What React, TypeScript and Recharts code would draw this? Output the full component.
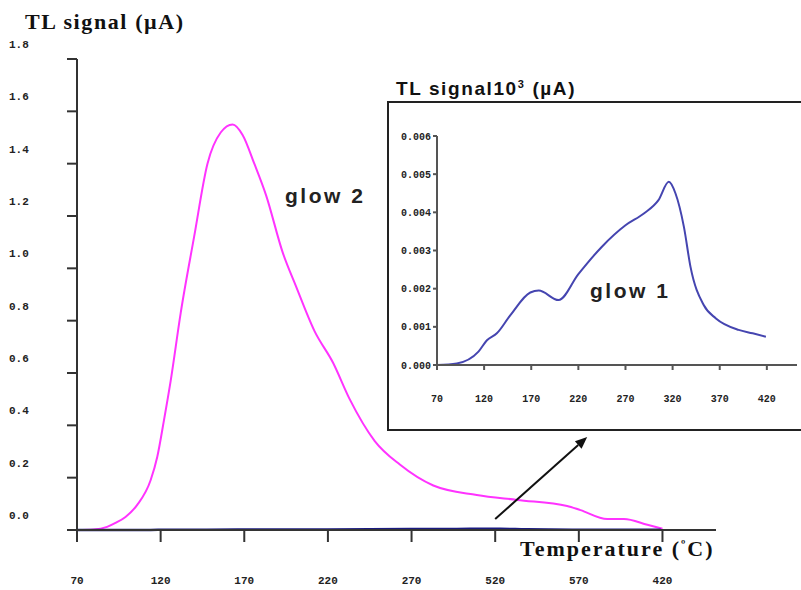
import React from 'react';
import { LineChart, Line, XAxis, YAxis, ReferenceLine } from 'recharts';

// ---- data ----
const xTickValues = [70, 120, 170, 220, 270, 320, 370, 420];
const mainXTickLabels = ['70', '120', '170', '220', '270', '520', '570', '420'];
const insetXTickLabels = ['70', '120', '170', '220', '270', '320', '370', '420'];

const mainYTicks = [0, 0.2, 0.4, 0.6, 0.8, 1.0, 1.2, 1.4, 1.6, 1.8];
const mainYTickLabels = ['0.0', '0.2', '0.4', '0.6', '0.8', '1.0', '1.2', '1.4', '1.6', '1.8'];

const insetYTicks = [0, 0.001, 0.002, 0.003, 0.004, 0.005, 0.006];
const insetYTickLabels = ['0.000', '0.001', '0.002', '0.003', '0.004', '0.005', '0.006'];

const glow2Temps = [70, 80, 88, 93, 99, 106, 114, 118, 122, 126, 132, 140, 148, 156, 163, 169, 176, 183, 193, 201, 212, 223, 233, 248, 263, 283, 309, 333, 363, 371, 387, 397, 411, 420];
const glow2Values = [0, 0.002, 0.012, 0.027, 0.05, 0.096, 0.19, 0.28, 0.42, 0.57, 0.83, 1.12, 1.4, 1.52, 1.55, 1.51, 1.4, 1.28, 1.06, 0.93, 0.76, 0.64, 0.5, 0.34, 0.25, 0.17, 0.134, 0.115, 0.092, 0.076, 0.042, 0.042, 0.02, 0.005];

const glow1Temps = [70, 91, 114, 123, 133.5, 147.7, 169, 178, 199, 220, 245, 270, 289.5, 305, 316, 323, 332, 339, 353, 366, 390, 405, 419];
const glow1Values = [0, 0.00004, 0.00035, 0.00065, 0.00083, 0.0013, 0.0019, 0.00195, 0.0017, 0.00238, 0.0031, 0.00366, 0.00397, 0.00432, 0.0048, 0.0045, 0.00362, 0.00257, 0.00157, 0.00122, 0.00092, 0.00083, 0.00074];

const arrowStart = { t: 320, v: 0.042 };
const arrowEnd = { t: 375, v: 0.355 };

const glow2Data = glow2Temps.map((t, i) => ({ t, v: glow2Values[i] }));
const glow1Data = glow1Temps.map((t, i) => ({ t, v: glow1Values[i] }));

const MONO = '"Liberation Mono", "DejaVu Sans Mono", monospace';
const SERIF = '"Liberation Serif", "DejaVu Serif", serif';
const SANS = '"Liberation Sans", Arial, sans-serif';

const MainYTick = (props: any) => {
  const { y, index } = props;
  return (
    <text x={9} y={y - 15} dy="0.35em" textAnchor="start" fontFamily={MONO} fontWeight="bold" fontSize={11} fill="#222">
      {mainYTickLabels[index]}
    </text>
  );
};

const Arrow = (props: any) => {
  const { x1, y1, x2, y2 } = props;
  if ([x1, y1, x2, y2].some((n) => typeof n !== 'number' || isNaN(n))) return <g />;
  const ang = Math.atan2(y2 - y1, x2 - x1);
  const len = 12;
  const w = 5;
  const bx = x2 - len * Math.cos(ang);
  const by = y2 - len * Math.sin(ang);
  const px = -Math.sin(ang) * w;
  const py = Math.cos(ang) * w;
  return (
    <g>
      <line x1={x1} y1={y1} x2={bx} y2={by} stroke="#111" strokeWidth={2} />
      <polygon points={`${x2},${y2} ${bx + px},${by + py} ${bx - px},${by - py}`} fill="#111" />
    </g>
  );
};

export default function App() {
  return (
    <div style={{ position: 'absolute', left: 0, top: 0, width: 801, height: 590, overflow: 'hidden', background: '#fff' }}>
      <div style={{ position: 'absolute', left: 0, top: 0 }}>
        <LineChart width={801} height={590} margin={{ top: 59, right: 85, bottom: 10, left: 7 }}>
          <XAxis
            type="number"
            dataKey="t"
            domain={[70, 452]}
            ticks={xTickValues}
            allowDataOverflow
            height={50}
            tickSize={12}
            tickMargin={34}
            tickFormatter={(_v: any, i: number) => mainXTickLabels[i]}
            tick={{ fontFamily: MONO, fontWeight: 'bold', fontSize: 11, fill: '#222' }}
            stroke="#333"
            strokeWidth={2}
          />
          <YAxis
            type="number"
            domain={[0, 1.8]}
            ticks={mainYTicks}
            width={70}
            tickSize={10}
            tick={<MainYTick />}
            stroke="#333"
            strokeWidth={2}
          />
          <Line data={glow2Data} dataKey="v" type="monotone" stroke="#ff33ff" strokeWidth={2} dot={false} isAnimationActive={false} />
          <Line data={glow1Data} dataKey="v" type="monotone" stroke="#1a1a80" strokeWidth={2.5} dot={false} isAnimationActive={false} />
          <ReferenceLine
            segment={[{ x: arrowStart.t, y: arrowStart.v }, { x: arrowEnd.t, y: arrowEnd.v }]}
            ifOverflow="visible"
            shape={Arrow}
          />
        </LineChart>
      </div>

      <div style={{ position: 'absolute', left: 25, top: 9, fontFamily: SERIF, fontWeight: 'bold', fontSize: 22, color: '#111', whiteSpace: 'nowrap', letterSpacing: 1.6 }}>
        TL signal (µA)
      </div>
      <div style={{ position: 'absolute', left: 520, top: 536, fontFamily: SERIF, fontWeight: 'bold', fontSize: 22, color: '#111', whiteSpace: 'nowrap', letterSpacing: 2 }}>
        Temperature (<span style={{ fontSize: 13, verticalAlign: 'super' }}>º</span>C)
      </div>
      <div style={{ position: 'absolute', left: 285, top: 184, fontFamily: SANS, fontWeight: 'bold', fontSize: 21, color: '#222', whiteSpace: 'nowrap', letterSpacing: 2.5 }}>
        glow 2
      </div>

      <div style={{ position: 'absolute', left: 396, top: 78, fontFamily: SANS, fontWeight: 'bold', fontSize: 19, color: '#111', whiteSpace: 'nowrap', letterSpacing: 1.6 }}>
        TL signal10<span style={{ fontSize: 11, verticalAlign: 'super' }}>3</span> (µA)
      </div>

      <div style={{ position: 'absolute', left: 387, top: 101, width: 440, height: 326, border: '2px solid #222', background: '#fff' }} />
      <div style={{ position: 'absolute', left: 388, top: 103 }}>
        <LineChart width={413} height={326} margin={{ top: 33, right: 4, bottom: 34, left: 4 }}>
          <XAxis
            type="number"
            dataKey="t"
            domain={[70, 452]}
            ticks={xTickValues}
            allowDataOverflow
            height={30}
            tickSize={5}
            tickMargin={25}
            tickFormatter={(_v: any, i: number) => insetXTickLabels[i]}
            tick={{ fontFamily: MONO, fontWeight: 'bold', fontSize: 10, fill: '#222' }}
            stroke="#555"
            strokeWidth={2}
          />
          <YAxis
            type="number"
            domain={[0, 0.006]}
            ticks={insetYTicks}
            width={45}
            tickSize={4}
            tickMargin={2}
            tickFormatter={(_v: any, i: number) => insetYTickLabels[i]}
            tick={{ fontFamily: MONO, fontWeight: 'bold', fontSize: 10, fill: '#222' }}
            stroke="#555"
            strokeWidth={2}
          />
          <Line data={glow1Data} dataKey="v" type="monotone" stroke="#4545b0" strokeWidth={2} dot={false} isAnimationActive={false} />
        </LineChart>
      </div>
      <div style={{ position: 'absolute', left: 590, top: 279, fontFamily: SANS, fontWeight: 'bold', fontSize: 21, color: '#222', whiteSpace: 'nowrap', letterSpacing: 2.5 }}>
        glow 1
      </div>
    </div>
  );
}
